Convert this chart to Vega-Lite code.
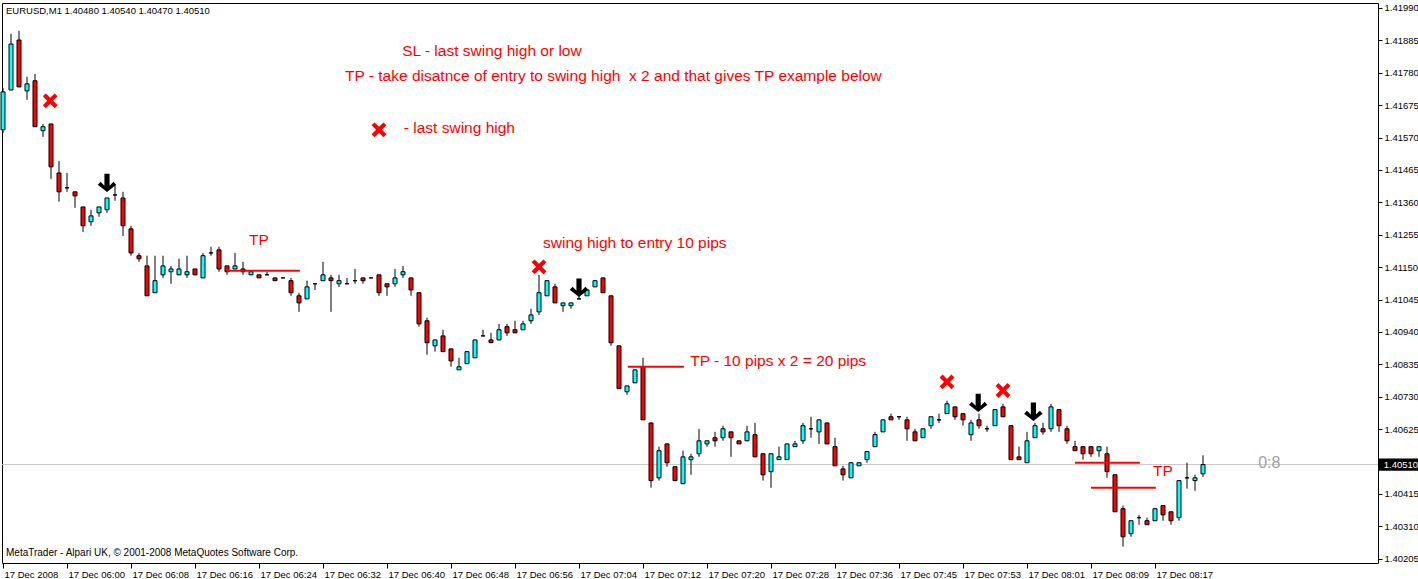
{
"$schema": "https://vega.github.io/schema/vega-lite/v6.json",
"width": 1376, "height": 560,
"autosize": {"type": "none"},
"padding": {"left": 2, "top": 3, "right": 40, "bottom": 16},
"background": "white",
"config": {"view": {"stroke": "black", "strokeWidth": 1}, "scale": {"continuousPadding": 0}, "axis": {"grid": false, "domain": false, "labelOverlap": false, "labelFont": "Liberation Sans", "labelFontSize": 9.5, "labelColor": "black", "tickColor": "black"}, "axisY": {"labelOverlap": false}, "axisRight": {"labelOverlap": false}},
"datasets": {
"candles": [
{"i":0,"o":1.41595,"h":1.41731,"l":1.41585,"c":1.41718},
{"i":1,"o":1.41724,"h":1.41906,"l":1.41724,"c":1.41873},
{"i":2,"o":1.41886,"h":1.41916,"l":1.41734,"c":1.41734},
{"i":3,"o":1.41721,"h":1.41767,"l":1.41692,"c":1.41744},
{"i":4,"o":1.41754,"h":1.41776,"l":1.41605,"c":1.41605},
{"i":5,"o":1.41592,"h":1.41614,"l":1.41572,"c":1.41605},
{"i":6,"o":1.41614,"h":1.41614,"l":1.41436,"c":1.41475},
{"i":7,"o":1.41455,"h":1.41494,"l":1.41362,"c":1.41394},
{"i":8,"o":1.41407,"h":1.41455,"l":1.41394,"c":1.41407},
{"i":9,"o":1.41394,"h":1.41394,"l":1.41342,"c":1.41381},
{"i":10,"o":1.41345,"h":1.41345,"l":1.41264,"c":1.41284},
{"i":11,"o":1.41297,"h":1.41336,"l":1.41284,"c":1.41316},
{"i":12,"o":1.41326,"h":1.41345,"l":1.41313,"c":1.41345},
{"i":13,"o":1.41336,"h":1.41374,"l":1.41326,"c":1.41374},
{"i":14,"o":1.41384,"h":1.41417,"l":1.41365,"c":1.41384},
{"i":15,"o":1.41374,"h":1.41394,"l":1.41251,"c":1.41284},
{"i":16,"o":1.41274,"h":1.41284,"l":1.41187,"c":1.41196},
{"i":17,"o":1.41187,"h":1.41196,"l":1.41167,"c":1.41177},
{"i":18,"o":1.41154,"h":1.41187,"l":1.41057,"c":1.41057},
{"i":19,"o":1.41067,"h":1.41187,"l":1.41067,"c":1.41106},
{"i":20,"o":1.41125,"h":1.41187,"l":1.41115,"c":1.41154},
{"i":21,"o":1.41135,"h":1.41154,"l":1.41096,"c":1.41144},
{"i":22,"o":1.41125,"h":1.41177,"l":1.41125,"c":1.41144},
{"i":23,"o":1.41125,"h":1.41187,"l":1.41115,"c":1.41135},
{"i":24,"o":1.41144,"h":1.41144,"l":1.41125,"c":1.41125},
{"i":25,"o":1.41115,"h":1.41196,"l":1.41115,"c":1.41187},
{"i":26,"o":1.41196,"h":1.41216,"l":1.41187,"c":1.41196},
{"i":27,"o":1.41206,"h":1.41216,"l":1.41135,"c":1.41144},
{"i":28,"o":1.41154,"h":1.41154,"l":1.41125,"c":1.41135},
{"i":29,"o":1.41144,"h":1.41196,"l":1.41144,"c":1.41154},
{"i":30,"o":1.41144,"h":1.41167,"l":1.41125,"c":1.41135},
{"i":31,"o":1.41125,"h":1.41135,"l":1.41125,"c":1.41135},
{"i":32,"o":1.41125,"h":1.41125,"l":1.41115,"c":1.41115},
{"i":33,"o":1.41125,"h":1.41135,"l":1.41125,"c":1.41125},
{"i":34,"o":1.41115,"h":1.41115,"l":1.41106,"c":1.41106},
{"i":35,"o":1.41115,"h":1.41115,"l":1.41115,"c":1.41115},
{"i":36,"o":1.41106,"h":1.41115,"l":1.41057,"c":1.41067},
{"i":37,"o":1.41057,"h":1.41067,"l":1.41005,"c":1.41034},
{"i":38,"o":1.41047,"h":1.41106,"l":1.41047,"c":1.41086},
{"i":39,"o":1.41096,"h":1.41096,"l":1.41076,"c":1.41096},
{"i":40,"o":1.41106,"h":1.41167,"l":1.41106,"c":1.41125},
{"i":41,"o":1.41115,"h":1.41125,"l":1.41005,"c":1.41106},
{"i":42,"o":1.41096,"h":1.41125,"l":1.41086,"c":1.41106},
{"i":43,"o":1.41096,"h":1.41115,"l":1.41096,"c":1.41096},
{"i":44,"o":1.41106,"h":1.41144,"l":1.41096,"c":1.41106},
{"i":45,"o":1.41115,"h":1.41115,"l":1.41096,"c":1.41106},
{"i":46,"o":1.41115,"h":1.41115,"l":1.41115,"c":1.41115},
{"i":47,"o":1.41125,"h":1.41125,"l":1.41057,"c":1.41067},
{"i":48,"o":1.41096,"h":1.41096,"l":1.41057,"c":1.41086},
{"i":49,"o":1.41096,"h":1.41144,"l":1.41086,"c":1.41115},
{"i":50,"o":1.41125,"h":1.41154,"l":1.41115,"c":1.41135},
{"i":51,"o":1.41115,"h":1.41115,"l":1.41057,"c":1.41076},
{"i":52,"o":1.41067,"h":1.41067,"l":1.40957,"c":1.40966},
{"i":53,"o":1.40976,"h":1.40986,"l":1.40866,"c":1.40905},
{"i":54,"o":1.40895,"h":1.40914,"l":1.40876,"c":1.40914},
{"i":55,"o":1.40927,"h":1.40947,"l":1.40876,"c":1.40876},
{"i":56,"o":1.40885,"h":1.40885,"l":1.40827,"c":1.40846},
{"i":57,"o":1.40817,"h":1.40856,"l":1.40817,"c":1.40827},
{"i":58,"o":1.40837,"h":1.40876,"l":1.40837,"c":1.40876},
{"i":59,"o":1.40856,"h":1.40914,"l":1.40856,"c":1.40914},
{"i":60,"o":1.40927,"h":1.40947,"l":1.40927,"c":1.40927},
{"i":61,"o":1.40914,"h":1.40937,"l":1.40905,"c":1.40905},
{"i":62,"o":1.40914,"h":1.40966,"l":1.40914,"c":1.40947},
{"i":63,"o":1.40957,"h":1.40966,"l":1.40927,"c":1.40937},
{"i":64,"o":1.40947,"h":1.40976,"l":1.40937,"c":1.40937},
{"i":65,"o":1.40947,"h":1.40976,"l":1.40947,"c":1.40966},
{"i":66,"o":1.40976,"h":1.41015,"l":1.40966,"c":1.40995},
{"i":67,"o":1.41005,"h":1.41125,"l":1.40995,"c":1.41067},
{"i":68,"o":1.41057,"h":1.41106,"l":1.41057,"c":1.41106},
{"i":69,"o":1.41086,"h":1.41096,"l":1.41034,"c":1.41034},
{"i":70,"o":1.41025,"h":1.41034,"l":1.41005,"c":1.41034},
{"i":71,"o":1.41025,"h":1.41034,"l":1.41015,"c":1.41034},
{"i":72,"o":1.41047,"h":1.41060,"l":1.41047,"c":1.41047},
{"i":73,"o":1.41057,"h":1.41076,"l":1.41057,"c":1.41076},
{"i":74,"o":1.41086,"h":1.41106,"l":1.41086,"c":1.41106},
{"i":75,"o":1.41115,"h":1.41115,"l":1.41067,"c":1.41067},
{"i":76,"o":1.41057,"h":1.41057,"l":1.40895,"c":1.40905},
{"i":77,"o":1.40895,"h":1.40895,"l":1.40756,"c":1.40756},
{"i":78,"o":1.40746,"h":1.40765,"l":1.40736,"c":1.40765},
{"i":79,"o":1.40775,"h":1.40817,"l":1.40775,"c":1.40817},
{"i":80,"o":1.40827,"h":1.40856,"l":1.40655,"c":1.40655},
{"i":81,"o":1.40645,"h":1.40645,"l":1.40435,"c":1.40458},
{"i":82,"o":1.40467,"h":1.40568,"l":1.40458,"c":1.40555},
{"i":83,"o":1.40577,"h":1.40577,"l":1.40503,"c":1.40516},
{"i":84,"o":1.40503,"h":1.40503,"l":1.40458,"c":1.40458},
{"i":85,"o":1.40448,"h":1.40555,"l":1.40448,"c":1.40535},
{"i":86,"o":1.40526,"h":1.40545,"l":1.40477,"c":1.40535},
{"i":87,"o":1.40545,"h":1.40626,"l":1.40535,"c":1.40587},
{"i":88,"o":1.40577,"h":1.40587,"l":1.40568,"c":1.40587},
{"i":89,"o":1.40597,"h":1.40616,"l":1.40568,"c":1.40587},
{"i":90,"o":1.40597,"h":1.40636,"l":1.40587,"c":1.40626},
{"i":91,"o":1.40616,"h":1.40616,"l":1.40535,"c":1.40597},
{"i":92,"o":1.40587,"h":1.40587,"l":1.40577,"c":1.40577},
{"i":93,"o":1.40587,"h":1.40636,"l":1.40587,"c":1.40616},
{"i":94,"o":1.40607,"h":1.40645,"l":1.40535,"c":1.40535},
{"i":95,"o":1.40545,"h":1.40545,"l":1.40458,"c":1.40477},
{"i":96,"o":1.40487,"h":1.40545,"l":1.40435,"c":1.40545},
{"i":97,"o":1.40526,"h":1.40568,"l":1.40526,"c":1.40535},
{"i":98,"o":1.40526,"h":1.40577,"l":1.40526,"c":1.40577},
{"i":99,"o":1.40568,"h":1.40587,"l":1.40568,"c":1.40577},
{"i":100,"o":1.40587,"h":1.40645,"l":1.40577,"c":1.40636},
{"i":101,"o":1.40626,"h":1.40665,"l":1.40597,"c":1.40626},
{"i":102,"o":1.40616,"h":1.40655,"l":1.40577,"c":1.40655},
{"i":103,"o":1.40645,"h":1.40645,"l":1.40577,"c":1.40577},
{"i":104,"o":1.40568,"h":1.40597,"l":1.40506,"c":1.40506},
{"i":105,"o":1.40496,"h":1.40506,"l":1.40458,"c":1.40477},
{"i":106,"o":1.40467,"h":1.40516,"l":1.40467,"c":1.40516},
{"i":107,"o":1.40506,"h":1.40516,"l":1.40506,"c":1.40516},
{"i":108,"o":1.40526,"h":1.40552,"l":1.40516,"c":1.40552},
{"i":109,"o":1.40568,"h":1.40616,"l":1.40568,"c":1.40607},
{"i":110,"o":1.40616,"h":1.40655,"l":1.40616,"c":1.40655},
{"i":111,"o":1.40665,"h":1.40675,"l":1.40655,"c":1.40655},
{"i":112,"o":1.40665,"h":1.40665,"l":1.40655,"c":1.40665},
{"i":113,"o":1.40655,"h":1.40665,"l":1.40587,"c":1.40626},
{"i":114,"o":1.40616,"h":1.40626,"l":1.40587,"c":1.40587},
{"i":115,"o":1.40597,"h":1.40626,"l":1.40597,"c":1.40626},
{"i":116,"o":1.40636,"h":1.40665,"l":1.40626,"c":1.40665},
{"i":117,"o":1.40655,"h":1.40675,"l":1.40645,"c":1.40655},
{"i":118,"o":1.40675,"h":1.40717,"l":1.40675,"c":1.40707},
{"i":119,"o":1.40697,"h":1.40697,"l":1.40655,"c":1.40665},
{"i":120,"o":1.40675,"h":1.40675,"l":1.40636,"c":1.40655},
{"i":121,"o":1.40607,"h":1.40655,"l":1.40587,"c":1.40645},
{"i":122,"o":1.40655,"h":1.40675,"l":1.40626,"c":1.40636},
{"i":123,"o":1.40626,"h":1.40636,"l":1.40616,"c":1.40626},
{"i":124,"o":1.40636,"h":1.40688,"l":1.40636,"c":1.40688},
{"i":125,"o":1.40697,"h":1.40707,"l":1.40665,"c":1.40665},
{"i":126,"o":1.40636,"h":1.40636,"l":1.40526,"c":1.40526},
{"i":127,"o":1.40535,"h":1.40568,"l":1.40526,"c":1.40526},
{"i":128,"o":1.40516,"h":1.40616,"l":1.40516,"c":1.40587},
{"i":129,"o":1.40597,"h":1.40645,"l":1.40597,"c":1.40636},
{"i":130,"o":1.40626,"h":1.40645,"l":1.40607,"c":1.40616},
{"i":131,"o":1.40626,"h":1.40707,"l":1.40616,"c":1.40697},
{"i":132,"o":1.40688,"h":1.40688,"l":1.40616,"c":1.40636},
{"i":133,"o":1.40626,"h":1.40636,"l":1.40577,"c":1.40587},
{"i":134,"o":1.40568,"h":1.40587,"l":1.40555,"c":1.40555},
{"i":135,"o":1.40568,"h":1.40568,"l":1.40526,"c":1.40545},
{"i":136,"o":1.40568,"h":1.40568,"l":1.40535,"c":1.40545},
{"i":137,"o":1.40555,"h":1.40568,"l":1.40535,"c":1.40568},
{"i":138,"o":1.40545,"h":1.40568,"l":1.40467,"c":1.40487},
{"i":139,"o":1.40477,"h":1.40477,"l":1.40357,"c":1.40357},
{"i":140,"o":1.40367,"h":1.40377,"l":1.40244,"c":1.40276},
{"i":141,"o":1.40286,"h":1.40328,"l":1.40276,"c":1.40328},
{"i":142,"o":1.40338,"h":1.40347,"l":1.40315,"c":1.40338},
{"i":143,"o":1.40328,"h":1.40338,"l":1.40315,"c":1.40315},
{"i":144,"o":1.40328,"h":1.40367,"l":1.40328,"c":1.40367},
{"i":145,"o":1.40377,"h":1.40377,"l":1.40328,"c":1.40347},
{"i":146,"o":1.40357,"h":1.40357,"l":1.40315,"c":1.40328},
{"i":147,"o":1.40338,"h":1.40458,"l":1.40328,"c":1.40458},
{"i":148,"o":1.40467,"h":1.40516,"l":1.40432,"c":1.40467},
{"i":149,"o":1.40458,"h":1.40477,"l":1.40425,"c":1.40467},
{"i":150,"o":1.40480,"h":1.40540,"l":1.40470,"c":1.40510}
]
},
"layer": [
{
"data": {"values": [{"a": -0.125, "b": 171.875, "p": 1.40510}]},
"mark": {"type": "rule", "color": "#c8c8c8", "strokeWidth": 1},
"encoding": {
"x": {"field": "a", "type": "quantitative", "scale": {"domain": [-0.125, 171.875], "nice": false, "zero": false, "padding": 0},
"axis": {"title": null, "orient": "bottom", "values": [0,8,16,24,32,40,48,56,64,72,80,88,96,104,112,120,128,136,144], "tickSize": 5, "labelAlign": "left", "labelBaseline": "top", "labelPadding": 1, "labelOffset": 1, "labelOverlap": false, "labelBound": false, "labelFlush": false,
"labelExpr": "['17 Dec 2008','17 Dec 06:00','17 Dec 06:08','17 Dec 06:16','17 Dec 06:24','17 Dec 06:32','17 Dec 06:40','17 Dec 06:48','17 Dec 06:56','17 Dec 07:04','17 Dec 07:12','17 Dec 07:20','17 Dec 07:28','17 Dec 07:36','17 Dec 07:45','17 Dec 07:53','17 Dec 08:01','17 Dec 08:09','17 Dec 08:17'][round(datum.value/8)]"}},
"x2": {"field": "b"},
"y": {"field": "p", "type": "quantitative", "scale": {"domain": [1.40191, 1.42006], "nice": false, "zero": false, "padding": 0},
"axis": {"title": null, "orient": "right", "values": [1.41990,1.41885,1.41780,1.41675,1.41570,1.41465,1.41360,1.41255,1.41150,1.41045,1.40940,1.40835,1.40730,1.40625,1.40415,1.40310,1.40205], "tickCount": 17, "format": ".5f", "tickSize": 4, "labelPadding": 2, "labelAlign": "left", "labelBaseline": "middle", "labelOverlap": false, "labelSeparation": -30, "labelBound": false, "labelFlush": false}}
}
},
{
"data": {"name": "candles"},
"mark": {"type": "rule", "color": "black", "strokeWidth": 1},
"encoding": {
"x": {"field": "i", "type": "quantitative", "axis": {"title": null}},
"y": {"field": "l", "type": "quantitative", "axis": {"title": null}},
"y2": {"field": "h"}
}
},
{
"data": {"name": "candles"},
"mark": {"type": "bar", "width": 4, "stroke": "black", "strokeWidth": 1},
"encoding": {
"x": {"field": "i", "type": "quantitative", "axis": {"title": null}},
"y": {"field": "o", "type": "quantitative", "axis": {"title": null}},
"y2": {"field": "c"},
"fill": {"condition": {"test": "datum.c >= datum.o", "value": "#00ffff"}, "value": "#ff0000"}
}
},
{
"data": {"values": [
{"a": 28, "b": 37.1, "p": 1.41138},
{"a": 78.1, "b": 85.1, "p": 1.40827},
{"a": 134, "b": 142.1, "p": 1.40516},
{"a": 136, "b": 144.1, "p": 1.40435}
]},
"mark": {"type": "rule", "color": "#ff0000", "strokeWidth": 2},
"encoding": {
"x": {"field": "a", "type": "quantitative", "axis": {"title": null}},
"x2": {"field": "b"},
"y": {"field": "p", "type": "quantitative", "axis": {"title": null}}
}
},
{
"data": {"values": [
{"x": 5.9, "p": 1.41689},
{"x": 47, "p": 1.41595},
{"x": 67, "p": 1.41151},
{"x": 118, "p": 1.40778},
{"x": 125, "p": 1.40750}
]},
"mark": {"type": "point", "filled": true, "color": "#ff0000", "opacity": 1, "size": 220, "shape": "M-1,-0.6 L-0.6,-1 L0,-0.4 L0.6,-1 L1,-0.6 L0.4,0 L1,0.6 L0.6,1 L0,0.4 L-0.6,1 L-1,0.6 L-0.4,0 Z"},
"encoding": {
"x": {"field": "x", "type": "quantitative", "axis": {"title": null}},
"y": {"field": "p", "type": "quantitative", "axis": {"title": null}}
}
},
{
"data": {"values": [
{"x": 13, "p": 1.41423},
{"x": 72, "p": 1.41083},
{"x": 121.9, "p": 1.40710},
{"x": 128.8, "p": 1.40681}
]},
"mark": {"type": "point", "filled": true, "color": "black", "opacity": 1, "size": 340, "shape": "M-0.28,-1 L0.28,-1 L0.28,0.3 L0.7,-0.12 L1,0.2 L0,1 L-1,0.2 L-0.7,-0.12 L-0.28,0.3 Z"},
"encoding": {
"x": {"field": "x", "type": "quantitative", "axis": {"title": null}},
"y": {"field": "p", "type": "quantitative", "axis": {"title": null}}
}
},
{
"data": {"values": [
{"x": 49.9, "p": 1.41851, "t": "SL - last swing high or low"},
{"x": 42.75, "p": 1.41770, "t": "TP - take disatnce of entry to swing high \u00a0x 2 and that gives TP example below"},
{"x": 50.1, "p": 1.41601, "t": "- last swing high"},
{"x": 30.75, "p": 1.41238, "t": "TP"},
{"x": 67.5, "p": 1.41229, "t": "swing high to entry 10 pips"},
{"x": 85.9, "p": 1.40846, "t": "TP - 10 pips x 2 = 20 pips"},
{"x": 143.75, "p": 1.40490, "t": "TP"}
]},
"mark": {"type": "text", "align": "left", "baseline": "middle", "font": "Liberation Sans", "fontSize": 15.5, "color": "#ff0000"},
"encoding": {
"x": {"field": "x", "type": "quantitative", "axis": {"title": null}},
"y": {"field": "p", "type": "quantitative", "axis": {"title": null}},
"text": {"field": "t"}
}
},
{
"data": {"values": [{"x": 156.9, "p": 1.40516, "t": "0:8"}]},
"mark": {"type": "text", "align": "left", "baseline": "middle", "font": "Liberation Sans", "fontSize": 16, "color": "#a0a0a0"},
"encoding": {
"x": {"field": "x", "type": "quantitative", "axis": {"title": null}},
"y": {"field": "p", "type": "quantitative", "axis": {"title": null}},
"text": {"field": "t"}
}
},
{
"data": {"values": [
{"x": 0.375, "p": 1.41980, "t": "EURUSD,M1  1.40480 1.40540 1.40470 1.40510"}
]},
"mark": {"type": "text", "align": "left", "baseline": "middle", "font": "Liberation Sans", "fontSize": 9.5, "color": "black"},
"encoding": {
"x": {"field": "x", "type": "quantitative", "axis": {"title": null}},
"y": {"field": "p", "type": "quantitative", "axis": {"title": null}},
"text": {"field": "t"}
}
},
{
"data": {"values": [
{"x": 0.375, "p": 1.40224, "t": "MetaTrader - Alpari UK, © 2001-2008 MetaQuotes Software Corp."}
]},
"mark": {"type": "text", "align": "left", "baseline": "middle", "font": "Liberation Sans", "fontSize": 10, "color": "black"},
"encoding": {
"x": {"field": "x", "type": "quantitative", "axis": {"title": null}},
"y": {"field": "p", "type": "quantitative", "axis": {"title": null}},
"text": {"field": "t"}
}
},
{
"data": {"values": [{"a": 172.0, "b": 177, "p1": 1.40530, "p2": 1.40490}]},
"mark": {"type": "rect", "color": "black"},
"encoding": {
"x": {"field": "a", "type": "quantitative", "axis": {"title": null}},
"x2": {"field": "b"},
"y": {"field": "p1", "type": "quantitative", "axis": {"title": null}},
"y2": {"field": "p2"}
}
},
{
"data": {"values": [{"x": 172.6, "p": 1.40510, "t": "1.40510"}]},
"mark": {"type": "text", "align": "left", "baseline": "middle", "font": "Liberation Sans", "fontSize": 9.5, "color": "white"},
"encoding": {
"x": {"field": "x", "type": "quantitative", "axis": {"title": null}},
"y": {"field": "p", "type": "quantitative", "axis": {"title": null}},
"text": {"field": "t"}
}
}
]
}
